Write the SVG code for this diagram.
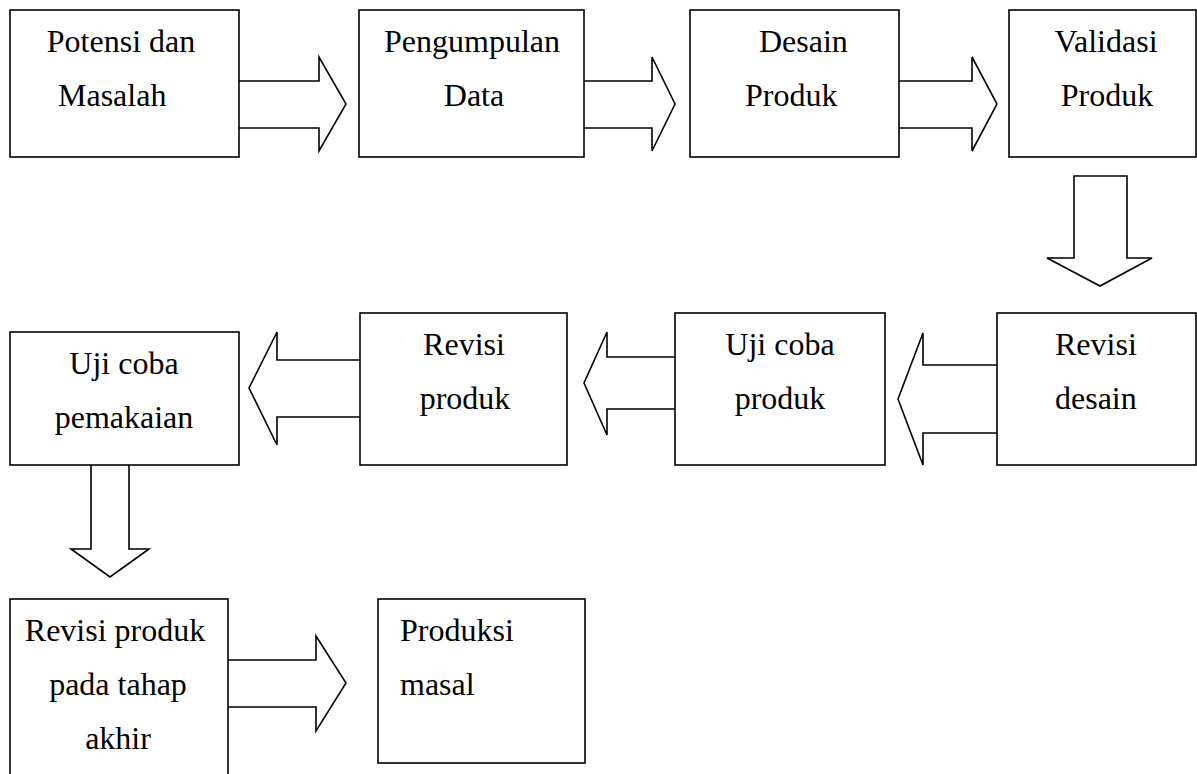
<svg xmlns="http://www.w3.org/2000/svg" width="1197" height="774" viewBox="0 0 1197 774">
<style>
.box{fill:#fff;stroke:#000;stroke-width:1.6}
.arr{fill:#fff;stroke:#000;stroke-width:1.6;stroke-linejoin:miter}
text{font-family:"Liberation Serif","Times New Roman",serif;font-size:32px;fill:#000}
.c{text-anchor:middle}
</style>
<rect width="1197" height="774" fill="#fff"/>
<g id="connectors">
<path class="arr" d="M239,81 H319 V57 L346,104 L319,151 V128 H239"/>
<path class="arr" d="M584,81 H652 V57 L675,104 L652,151 V128 H584"/>
<path class="arr" d="M899,81 H972 V57 L997,104 L972,151 V128 H899"/>
<path class="arr" d="M1074,176 H1127 V258 H1152 L1100,286 L1047,258 H1074 Z"/>
<path class="arr" d="M997,365 H923 V333 L898,399 L923,465 V433 H997"/>
<path class="arr" d="M675,357 H607 V332 L584,383 L607,435 V409 H675"/>
<path class="arr" d="M360,360 H277 V332 L249,388 L277,445 V417 H360"/>
<path class="arr" d="M91,465 V549 H71 L110,577 L149,549 H129 V465"/>
<path class="arr" d="M228,660 H316 V636 L346,683 L316,731 V707 H228"/>
</g>
<g id="n1"><rect class="box" x="10" y="10" width="229" height="147"/><text class="c" x="121" y="52">Potensi dan</text><text x="58" y="106">Masalah</text></g>
<g id="n2"><rect class="box" x="359" y="10" width="225" height="147"/><text class="c" x="472" y="52">Pengumpulan</text><text class="c" x="474" y="106">Data</text></g>
<g id="n3"><rect class="box" x="690" y="10" width="209" height="147"/><text x="759" y="52">Desain</text><text x="745" y="106">Produk</text></g>
<g id="n4"><rect class="box" x="1009" y="10" width="187" height="147"/><text class="c" x="1106" y="52">Validasi</text><text class="c" x="1107" y="106">Produk</text></g>
<g id="n5"><rect class="box" x="997" y="313" width="199" height="152"/><text x="1055" y="355">Revisi</text><text x="1055" y="409">desain</text></g>
<g id="n6"><rect class="box" x="675" y="313" width="210" height="152"/><text class="c" x="780" y="355">Uji coba</text><text class="c" x="780" y="409">produk</text></g>
<g id="n7"><rect class="box" x="360" y="313" width="207" height="152"/><text class="c" x="464" y="355">Revisi</text><text class="c" x="465" y="409">produk</text></g>
<g id="n8"><rect class="box" x="10" y="332" width="229" height="133"/><text class="c" x="124" y="374">Uji coba</text><text class="c" x="124" y="428">pemakaian</text></g>
<g id="n9"><rect class="box" x="10" y="599" width="218" height="190"/><text class="c" x="115" y="641">Revisi produk</text><text class="c" x="118" y="695">pada tahap</text><text class="c" x="118" y="749">akhir</text></g>
<g id="n10"><rect class="box" x="378" y="599" width="207" height="164"/><text x="400" y="641">Produksi</text><text x="400" y="695">masal</text></g>
</svg>
